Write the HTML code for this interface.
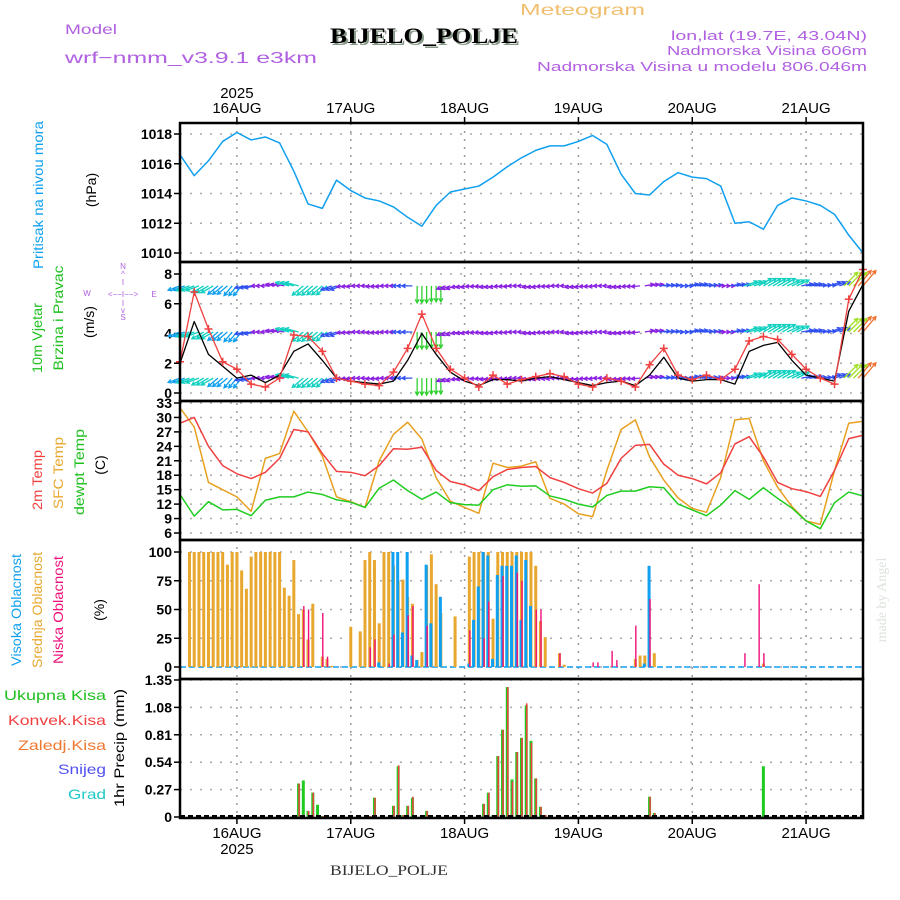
<!DOCTYPE html>
<html><head><meta charset="utf-8"><title>Meteogram BIJELO_POLJE</title>
<style>
html,body{margin:0;padding:0;background:#fff;}
svg{display:block;font-family:"Liberation Sans",sans-serif;}
.tk{font-size:14px;font-weight:bold;fill:#000;}
</style></head>
<body>
<svg id="chart" width="900" height="900" viewBox="0 0 900 900" xmlns="http://www.w3.org/2000/svg">
<text x="520" y="15" font-size="16" fill="#f0c070" textLength="125" lengthAdjust="spacingAndGlyphs">Meteogram</text>
<text x="65" y="34" font-size="14" fill="#b060e0" textLength="52" lengthAdjust="spacingAndGlyphs">Model</text>
<text x="65" y="63" font-size="16" fill="#b060e0" textLength="252" lengthAdjust="spacingAndGlyphs">wrf−nmm_v3.9.1 e3km</text>
<text x="332" y="45" font-size="22" font-weight="bold" font-family="Liberation Serif,serif" fill="#8a9a8a" textLength="188" lengthAdjust="spacingAndGlyphs">BIJELO_POLJE</text>
<text x="330" y="43" font-size="22" font-weight="bold" font-family="Liberation Serif,serif" fill="#000" textLength="188" lengthAdjust="spacingAndGlyphs">BIJELO_POLJE</text>
<text x="867" y="40" font-size="13" fill="#b060e0" text-anchor="end" textLength="196" lengthAdjust="spacingAndGlyphs">lon,lat (19.7E, 43.04N)</text>
<text x="867" y="55" font-size="13" fill="#b060e0" text-anchor="end" textLength="200" lengthAdjust="spacingAndGlyphs">Nadmorska Visina 606m</text>
<text x="867" y="71" font-size="13" fill="#b060e0" text-anchor="end" textLength="330" lengthAdjust="spacingAndGlyphs">Nadmorska Visina u modelu 806.046m</text>
<text x="330" y="875" font-size="15" font-family="Liberation Serif,serif" fill="#333" textLength="118" lengthAdjust="spacingAndGlyphs">BIJELO_POLJE</text>
<text transform="translate(886,600) rotate(-90)" font-size="14" font-family="Liberation Serif,serif" fill="#dde3dd" text-anchor="middle">made by Angel</text>

<g>
<text transform="translate(43,195) rotate(-90)" font-size="14" fill="#10a0f0" text-anchor="middle" textLength="148" lengthAdjust="spacingAndGlyphs">Pritisak na nivou mora</text>
<text transform="translate(96,190) rotate(-90)" font-size="14" fill="#000" text-anchor="middle">(hPa)</text>
</g>
<g>
<text transform="translate(42,338) rotate(-90)" font-size="14" fill="#20c020" text-anchor="middle" textLength="70" lengthAdjust="spacingAndGlyphs">10m Vjetar</text>
<text transform="translate(63,318) rotate(-90)" font-size="14" fill="#20c020" text-anchor="middle" textLength="105" lengthAdjust="spacingAndGlyphs">Brzina i Pravac</text>
<text transform="translate(94,322) rotate(-90)" font-size="14" fill="#000" text-anchor="middle">(m/s)</text>
<g font-size="8" fill="#b060e0" text-anchor="middle">
<text x="123" y="269">N</text><text x="123" y="277">^</text><text x="123" y="285">I</text>
<text x="87" y="296">W</text><text x="123" y="297">&lt;−−I−−&gt;</text><text x="154" y="297">E</text>
<text x="123" y="306">I</text><text x="123" y="313">v</text><text x="123" y="320">S</text>
</g>
</g>
<g>
<text transform="translate(42,480) rotate(-90)" font-size="14" fill="#f04040" text-anchor="middle" textLength="60" lengthAdjust="spacingAndGlyphs">2m Temp</text>
<text transform="translate(63,473) rotate(-90)" font-size="14" fill="#e8a830" text-anchor="middle" textLength="72" lengthAdjust="spacingAndGlyphs">SFC Temp</text>
<text transform="translate(84,472) rotate(-90)" font-size="14" fill="#20c020" text-anchor="middle" textLength="86" lengthAdjust="spacingAndGlyphs">dewpt Temp</text>
<text transform="translate(105,465) rotate(-90)" font-size="14" fill="#000" text-anchor="middle">(C)</text>
</g>
<g>
<text transform="translate(21,610) rotate(-90)" font-size="14" fill="#10a0f0" text-anchor="middle" textLength="112" lengthAdjust="spacingAndGlyphs">Visoka Oblacnost</text>
<text transform="translate(42,610) rotate(-90)" font-size="14" fill="#e8a830" text-anchor="middle" textLength="116" lengthAdjust="spacingAndGlyphs">Srednja Oblacnost</text>
<text transform="translate(63,610) rotate(-90)" font-size="14" fill="#f0107a" text-anchor="middle" textLength="108" lengthAdjust="spacingAndGlyphs">Niska Oblacnost</text>
<text transform="translate(104,610) rotate(-90)" font-size="14" fill="#000" text-anchor="middle">(%)</text>
</g>
<g font-size="14" text-anchor="end">
<text x="106" y="700" fill="#20c020" textLength="102" lengthAdjust="spacingAndGlyphs">Ukupna  Kisa</text>
<text x="106" y="725" fill="#f04040" textLength="98" lengthAdjust="spacingAndGlyphs">Konvek.Kisa</text>
<text x="106" y="750" fill="#f07830" textLength="88" lengthAdjust="spacingAndGlyphs">Zaledj.Kisa</text>
<text x="106" y="774" fill="#5050f0" textLength="48" lengthAdjust="spacingAndGlyphs">Snijeg</text>
<text x="106" y="799" fill="#20c8c8" textLength="38" lengthAdjust="spacingAndGlyphs">Grad</text>
<text transform="translate(124,748) rotate(-90)" fill="#000" text-anchor="middle" textLength="118" lengthAdjust="spacingAndGlyphs">1hr Precip (mm)</text>
</g>
<g id="plot"></g>
</svg>
<script>
// ---- data (time index: 3-hourly from 15AUG 12Z) ----
const dayLabels = ["16AUG","17AUG","18AUG","19AUG","20AUG","21AUG"];
const pressure = [1016.6,1015.2,1016.2,1017.5,1018.1,1017.6,1017.8,1017.4,1015.5,1013.3,1013.0,1014.9,1014.2,1013.7,1013.5,1013.1,1012.4,1011.8,1013.2,1014.1,1014.3,1014.5,1015.1,1015.8,1016.4,1016.9,1017.2,1017.2,1017.5,1017.9,1017.3,1015.3,1014.0,1013.9,1014.8,1015.4,1015.1,1015.0,1014.5,1012.0,1012.1,1011.6,1013.2,1013.7,1013.5,1013.2,1012.6,1011.2,1010.0];
const pressTicks = [1010,1012,1014,1016,1018];
const windSpeed = [2.0,4.8,2.6,1.8,1.0,1.2,0.7,1.2,2.8,3.3,2.2,1.0,0.8,0.7,0.6,0.8,2.2,4.0,2.6,1.4,0.8,0.5,0.9,0.9,0.8,1.0,1.1,0.9,0.7,0.5,0.7,0.8,0.5,1.2,2.4,1.0,0.8,0.9,0.9,0.6,2.8,3.2,3.4,2.2,1.2,1.0,0.8,5.5,7.3];
const windGust = [2.1,6.8,4.3,2.1,1.6,0.6,0.4,1.0,3.9,3.8,2.8,1.0,0.8,0.6,0.5,1.4,3.0,5.3,3.0,1.6,1.0,0.4,1.2,0.6,0.9,1.1,1.3,1.1,0.6,0.4,1.0,0.8,0.4,1.9,3.0,1.2,0.9,1.2,0.9,1.6,3.5,3.8,3.6,2.6,1.6,1.0,0.6,6.3,8.3];
const arrowDir = [200,200,210,220,230,190,180,170,165,220,220,200,185,180,185,180,180,270,270,200,190,185,190,185,180,190,185,180,190,185,180,190,185,10,5,0,10,5,0,10,20,30,30,25,10,5,20,45,50];
const arrowSpd = [3,3.5,3.5,3.2,3,2.5,1.5,1.5,3.5,3.8,3.5,2.5,1.5,1.2,1.2,1.2,2,5,4.5,1.5,1.2,1.2,1.2,1.2,1.2,1.2,1.2,1.2,1.2,1.2,1.2,1.2,1.2,1.5,2.2,2,2.2,2.2,1.5,2,3.5,4,4,3.5,2.5,2.2,2.5,6,8];
const arrowRows = [7.2,4.1,1.0];
const windTicks = [0,2,4,6,8];
const temp2m = [28.8,30,24,20,18.3,17.3,18.6,21.5,27.5,27,22.5,18.8,18.6,17.9,20,23.5,23.4,23.8,19,16.7,16,14.8,17.7,19.2,19.6,19.8,17.5,16.5,15.2,14.3,16.3,21.5,24.2,24.4,20.3,18,17.3,16.2,18.5,24.5,26,21.8,16.5,15.2,14.6,13.6,19,25.6,26.3];
const tempSfc = [32,28,16.5,15,13.5,10.5,21.5,22.5,31.3,27,22,13.5,12.5,11.3,21,26.5,29,25.5,17.5,12.6,11.3,10.1,20.5,19.6,19.9,20.8,13.2,12,10,9.4,19,27.5,29.5,21.8,17,13.3,11.1,10.3,17.5,29.5,29.8,21,15.5,11.5,8.5,7.8,19,28.8,29.2];
const tempDew = [14,9.5,12.5,10.8,10.9,9.6,12.8,13.5,13.5,14.5,14,12.9,12.4,11.3,15.3,17,14.8,13,14.5,12.3,11.9,11.8,15,16,15.7,15.8,13.7,13,12,11.4,13.8,14.7,14.7,15.6,15.4,12,10.8,9.6,11.8,14.8,13,15.4,13.2,11.2,8.5,6.9,12.3,14.5,13.7];
const tempTicks = [6,9,12,15,18,21,24,27,30,33];
// cloud (hourly index from 15AUG 12Z)
const midHours = [2,3,4,5,6,7,8,9,10,11,12,13,14,15,16,17,18,19,20,21,22,23,24,25,26,27,28,30,31,32,36,38,39,40,41,42,43,44,45,46,47,48,49,50,51,52,53,54,55,58,61,62,63,64,65,66,67,68,69,70,71,72,73,74,75,76,77,80,81,96,97,98,100,123];
const midVals = [100,100,100,100,100,100,100,100,89,100,100,84,68,96,100,100,100,100,100,100,69,62,93,46,50,24,55,9,7,1,35,31,93,100,93,38,100,100,88,75,76,61,55,6,13,88,98,72,47,44,96,100,100,100,100,42,100,100,100,100,100,100,100,100,88,40,26,12,2,7,10,10,12,3];
const highHours = [42,45,46,47,48,49,50,52,53,55,61,62,63,64,65,66,67,68,69,70,71,72,73,74,98,99];
const highVals = [4,100,100,30,100,10,6,89,38,61,3,41,70,100,97,7,80,88,88,88,97,41,93,53,3,88];
const lowHours = [26,27,30,31,40,41,44,45,48,49,52,61,64,65,68,71,72,75,76,80,87,88,91,92,96,99,119,122,123];
const lowVals = [53,50,47,9,17,24,3,28,45,53,36,32,25,57,79,82,75,50,50,12,4,4,14,6,36,59,12,72,12];
const cloudTicks = [0,25,50,75,100];
// precipitation (hourly)
const rainHours = [25,26,27,28,29,30,40,41,45,46,47,48,49,52,61,63,64,65,66,67,68,69,70,71,72,73,74,75,76,77,99,100,123];
const rainTotal = [0.33,0.36,0.06,0.24,0.12,0.01,0.01,0.19,0.11,0.5,0.02,0.11,0.19,0.06,0.02,0.02,0.13,0.24,0.02,0.6,0.86,1.28,0.37,0.64,0.78,1.1,0.75,0.38,0.1,0.02,0.2,0.04,0.5];
const rainConv = [0.33,0.02,0.06,0.24,0.02,0.01,0.01,0.19,0.11,0.51,0.02,0.11,0.2,0.06,0.0,0.02,0.13,0.24,0.02,0.6,0.86,1.28,0.35,0.64,0.78,1.12,0.73,0.38,0.1,0.02,0.2,0.04,0];
const precipTicks = [0,0.27,0.54,0.81,1.08,1.35];
const precipTickLabels = ["0","0.27","0.54","0.81","1.08","1.35"];

// ---- axes ----
const X0=180, X1=863, PXH=(X1-X0)/144;
const xh = h => X0 + h*PXH;
const x3 = i => xh(3*i);
const yP = v => 134 + (1018-v)*14.875;
const yW = v => 393 - v*14.875;
const yT = v => 533 - (v-6)*4.815;
const yC = v => 667 - v*1.15;
const yR = v => 817 - v*101.5;
const panels = [[123,262],[262,401],[401,540],[540,679],[679,818]];

const NS="http://www.w3.org/2000/svg";
const plot=document.getElementById('plot');
function mk(tag,attrs,parent){const e=document.createElementNS(NS,tag);for(const k in attrs)e.setAttribute(k,attrs[k]);(parent||plot).appendChild(e);return e;}

function hgrid(ticks,yf,name,labels){
  const g=mk('g',{});
  
  
  ticks.forEach((t,k)=>{
    const y=yf(t);
    mk('line',{x1:X0,x2:X1,y1:y,y2:y,stroke:'#aaa','stroke-width':1.5,'stroke-dasharray':'2,8'},g);
    mk('line',{x1:X0-6,x2:X0,y1:y,y2:y,stroke:'#000','stroke-width':1.5},g);
    const tx=mk('text',{x:X0-8,y:y+5,'text-anchor':'end',class:'tk'},g);
    tx.textContent=labels?labels[k]:String(t);
  });
}
hgrid(pressTicks,yP,'pressure');
hgrid(windTicks,yW,'wind');
hgrid(tempTicks,yT,'temp');
hgrid(cloudTicks,yC,'cloud');
hgrid(precipTicks,yR,'precip',precipTickLabels);
dayLabels.forEach((d,k)=>{
  const x=xh(12+24*k);
  const l=mk('line',{x1:x,x2:x,y1:123,y2:818,stroke:'#999','stroke-width':1.5,'stroke-dasharray':'2,6'});
  
  
  mk('line',{x1:x,x2:x,y1:117,y2:123,stroke:'#000','stroke-width':1.5});
  mk('line',{x1:x,x2:x,y1:818,y2:824,stroke:'#000','stroke-width':1.5});
  const t=mk('text',{x:x,y:113,'text-anchor':'middle','font-size':15,fill:'#000'});
  
  
  t.textContent=d;
  const b=mk('text',{x:x,y:838,'text-anchor':'middle','font-size':15,fill:'#000'});
  
  
  b.textContent=d;
  if(k===0){
    const y1=mk('text',{x:x,y:98,'text-anchor':'middle','font-size':15,fill:'#000'});y1.textContent='2025';
    const y2=mk('text',{x:x,y:854,'text-anchor':'middle','font-size':15,fill:'#000'});y2.textContent='2025';
  }
});

function poly(arr,xf,yf,color,name,w){
  const p=mk('polyline',{points:arr.map((v,i)=>xf(i)+','+yf(v)).join(' '),fill:'none',stroke:color,'stroke-width':w||1.5,'stroke-linejoin':'round'});
  
  
  return p;
}
poly(pressure,x3,yP,'#10a0f0','pressure-line');
function arrowColor(s){
  if(s<1.8) return '#8a20e0';
  if(s<2.6) return '#3050f0';
  if(s<3.4) return '#10a0f0';
  if(s<4.2) return '#10d0c0';
  if(s<5.5) return '#30d030';
  if(s<7) return '#a0e020';
  return '#f07030';
}
const ag=mk('g',{});


for(let h=0;h<=144;h++){
  const i=Math.min(48,Math.round(h/3));
  const s=arrowSpd[i], d=arrowDir[i]*Math.PI/180;
  const len=Math.min(20,6+s*2.2);
  arrowRows.forEach(r=>{
    const x=xh(h), y=yW(r);
    const ex=x+Math.cos(d)*len, ey=y-Math.sin(d)*len;
    const c=arrowColor(s);
    mk('path',{d:`M${x},${y}L${ex},${ey}M${ex-Math.cos(d-0.5)*4},${ey+Math.sin(d-0.5)*4}L${ex},${ey}L${ex-Math.cos(d+0.5)*4},${ey+Math.sin(d+0.5)*4}`,stroke:c,'stroke-width':1.3,fill:'none'},ag);
  });
}
poly(windSpeed,x3,yW,'#000','wind-speed-line',1.3);
poly(windGust,x3,yW,'#f04040','wind-gust-line',1.3);
windGust.forEach((v,i)=>{
  const x=x3(i),y=yW(v);
  const m=mk('path',{d:`M${x-4},${y}h8M${x},${y-4}v8`,stroke:'#f04040','stroke-width':1.5});
  
  
});
poly(tempSfc,x3,yT,'#e8a020','sfc-temp-line');
poly(temp2m,x3,yT,'#f04040','temp-2m-line');
poly(tempDew,x3,yT,'#20cc20','dewpoint-line');
mk('line',{x1:X0,x2:X1,y1:yC(0),y2:yC(0),stroke:'#10a0f0','stroke-width':1.5,'stroke-dasharray':'6,3'});
function bars(hours,vals,yf,color,w,off,name){
  hours.forEach((h,k)=>{
    const x=xh(h)+off, y=yf(vals[k]), y0=yf(0);
    const r=mk('rect',{x:x-w/2,y:y,width:w,height:Math.max(0,y0-y),fill:color});
    
    
  });
}
bars(midHours,midVals,yC,'#e8a830',3,0,'mid-cloud-bar');
bars(highHours,highVals,yC,'#10a0f0',3,-0.5,'high-cloud-bar');
bars(lowHours,lowVals,yC,'#f0107a',1.4,0.5,'low-cloud-bar');
bars(rainHours,rainTotal,yR,'#20cc20',3,0,'total-precip-bar');
bars(rainHours,rainConv,yR,'#f04040',1.5,0.5,'convective-precip-bar');
mk('line',{x1:X0,x2:X1,y1:yR(0)-1,y2:yR(0)-1,stroke:'#000','stroke-width':2,'stroke-dasharray':'5,3'});
panels.forEach(([t,b],k)=>{
  const r=mk('rect',{x:X0,y:t,width:X1-X0,height:b-t,fill:'none',stroke:'#000','stroke-width':2.5});
  
  
});
</script>
</body></html>
